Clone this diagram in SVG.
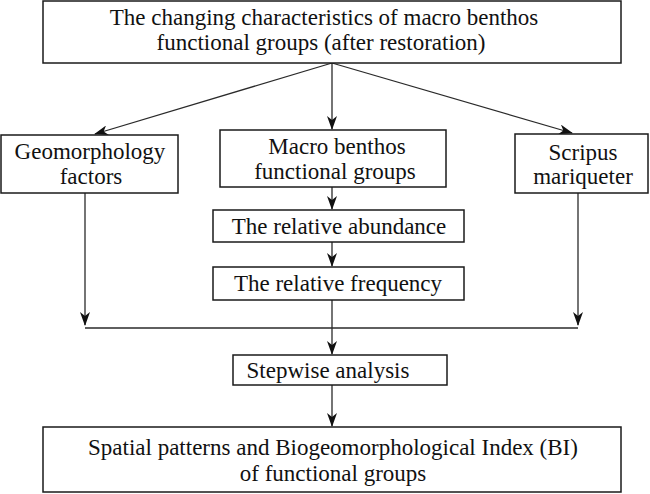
<svg xmlns="http://www.w3.org/2000/svg" width="650" height="494" viewBox="0 0 650 494">
<defs>
<style>
.box{fill:#fff;stroke:#1a1a1a;stroke-width:1.5}
.t{font-family:"Liberation Serif","Times New Roman",serif;font-size:23px;fill:#111;text-anchor:middle}
.c{fill:none;stroke:#2a2a2a;stroke-width:1.3}
</style>
<marker id="ah" markerWidth="14" markerHeight="10" refX="13" refY="5" orient="auto" markerUnits="userSpaceOnUse">
<path d="M0,0 L14,5 L0,10 L4,5 z" fill="#111"/>
</marker>
</defs>
<rect width="650" height="494" fill="#fff"/>
<g id="connectors">
<line class="c" x1="332" y1="63" x2="95" y2="134" marker-end="url(#ah)"/>
<line class="c" x1="332" y1="63" x2="332" y2="129" marker-end="url(#ah)"/>
<line class="c" x1="332" y1="63" x2="572" y2="133" marker-end="url(#ah)"/>
<line class="c" x1="332" y1="187" x2="332" y2="209" marker-end="url(#ah)"/>
<line class="c" x1="332" y1="242" x2="332" y2="266" marker-end="url(#ah)"/>
<line class="c" x1="85" y1="193" x2="85" y2="325" marker-end="url(#ah)"/>
<line class="c" x1="578" y1="193" x2="578" y2="325" marker-end="url(#ah)"/>
<line class="c" x1="85" y1="328" x2="578" y2="328"/>
<line class="c" x1="332" y1="300" x2="332" y2="354" marker-end="url(#ah)"/>
<line class="c" x1="332" y1="385" x2="332" y2="426" marker-end="url(#ah)"/>
</g>
<g id="top">
<rect class="box" x="43" y="1" width="578" height="62"/>
<text class="t" x="324" y="25">The changing characteristics of macro benthos</text>
<text class="t" x="321" y="50">functional groups (after restoration)</text>
</g>
<g id="geo">
<rect class="box" x="1" y="135" width="177" height="58"/>
<text class="t" x="90" y="159">Geomorphology</text>
<text class="t" x="91" y="184">factors</text>
</g>
<g id="macro">
<rect class="box" x="220" y="130" width="226" height="57"/>
<text class="t" x="337" y="154">Macro benthos</text>
<text class="t" x="335" y="179">functional groups</text>
</g>
<g id="scripus">
<rect class="box" x="515" y="134" width="133" height="59"/>
<text class="t" x="583" y="160">Scripus</text>
<text class="t" x="583" y="184">mariqueter</text>
</g>
<g id="abundance">
<rect class="box" x="213" y="210" width="251" height="32"/>
<text class="t" x="339" y="234">The relative abundance</text>
</g>
<g id="frequency">
<rect class="box" x="213" y="267" width="251" height="33"/>
<text class="t" x="338" y="291">The relative frequency</text>
</g>
<g id="stepwise">
<rect class="box" x="233" y="355" width="214" height="30"/>
<text class="t" x="328" y="378">Stepwise analysis</text>
</g>
<g id="bottom">
<rect class="box" x="43" y="427" width="578" height="65"/>
<text class="t" x="333" y="455">Spatial patterns and Biogeomorphological Index (BI)</text>
<text class="t" x="333" y="481">of functional groups</text>
</g>
</svg>
